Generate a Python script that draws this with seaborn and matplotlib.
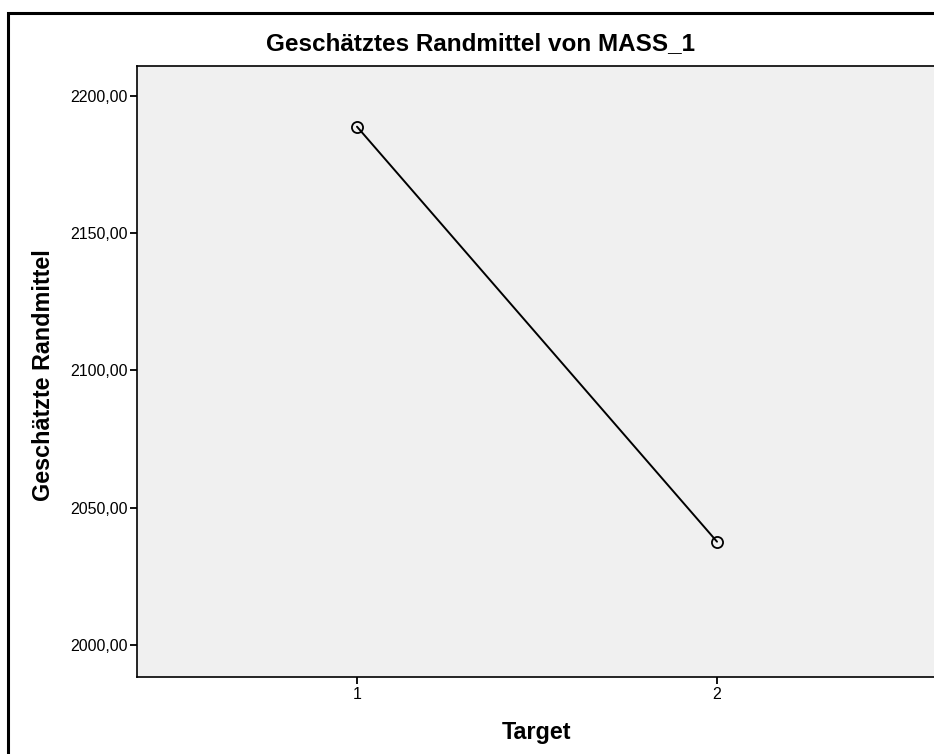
import pandas as pd
import matplotlib.pyplot as plt
import seaborn as sns
from matplotlib.patches import Rectangle

# values
target = [1, 2]
randmittel = [2188.8, 2037.6]
y_ticks = [2000, 2050, 2100, 2150, 2200]

data = pd.DataFrame({"Target": target, "Randmittel": randmittel})

sns.set_style("white")
plt.rcParams["font.family"] = ["Liberation Sans", "DejaVu Sans"]
plt.rcParams["text.color"] = "black"
plt.rcParams["xtick.color"] = "black"
plt.rcParams["ytick.color"] = "black"

W, H = 934, 754
fig = plt.figure(figsize=(W / 100, H / 100), dpi=100)

# axes in pixel coordinates: left 137, right 937, top 66, bottom 677
ax = fig.add_axes([137 / W, 1 - 677 / H, 800 / W, 611 / H])
ax.set_facecolor("#f0f0f0")

sns.lineplot(data=data, x="Target", y="Randmittel", ax=ax, color="black",
             linewidth=1.4, marker="o", markersize=8, markerfacecolor="none",
             markeredgecolor="black", markeredgewidth=1.3)

ax.set_xlim(0.389, 2.611)
ax.set_ylim(1988.3, 2210.9)
ax.set_xticks(target)
ax.set_xticklabels([str(t) for t in target])
ax.set_yticks(y_ticks)
ax.set_yticklabels([f"{v},00" for v in y_ticks])
ax.tick_params(axis="both", direction="out", length=5, width=1.3,
               labelsize=11.5, colors="black", pad=2, left=True, bottom=True)
ax.set_xlabel("")
ax.set_ylabel("")
for side in ["left", "bottom", "top", "right"]:
    ax.spines[side].set_color("black")
    ax.spines[side].set_linewidth(1.2)

fig.text(481 / W, 1 - 44 / H, "Geschätztes Randmittel von MASS_1",
         ha="center", va="center", fontsize=17.5, fontweight="bold",
         color="black")
fig.text(537 / W, 1 - 732 / H, "Target", ha="center", va="center",
         fontsize=16.8, fontweight="bold", color="black")
fig.text(44 / W, 1 - 375 / H, "Geschätzte Randmittel", ha="center",
         va="center", rotation=90, fontsize=16.8, fontweight="bold",
         color="black")

# outer frame of the chart, cut off on the right and bottom
fig.patches.append(Rectangle((8 / W, -0.05), 1.1, 1 - 13 / H + 0.05,
                             transform=fig.transFigure, fill=False,
                             edgecolor="black", linewidth=2.2))

fig.savefig("out.png", dpi=100)
